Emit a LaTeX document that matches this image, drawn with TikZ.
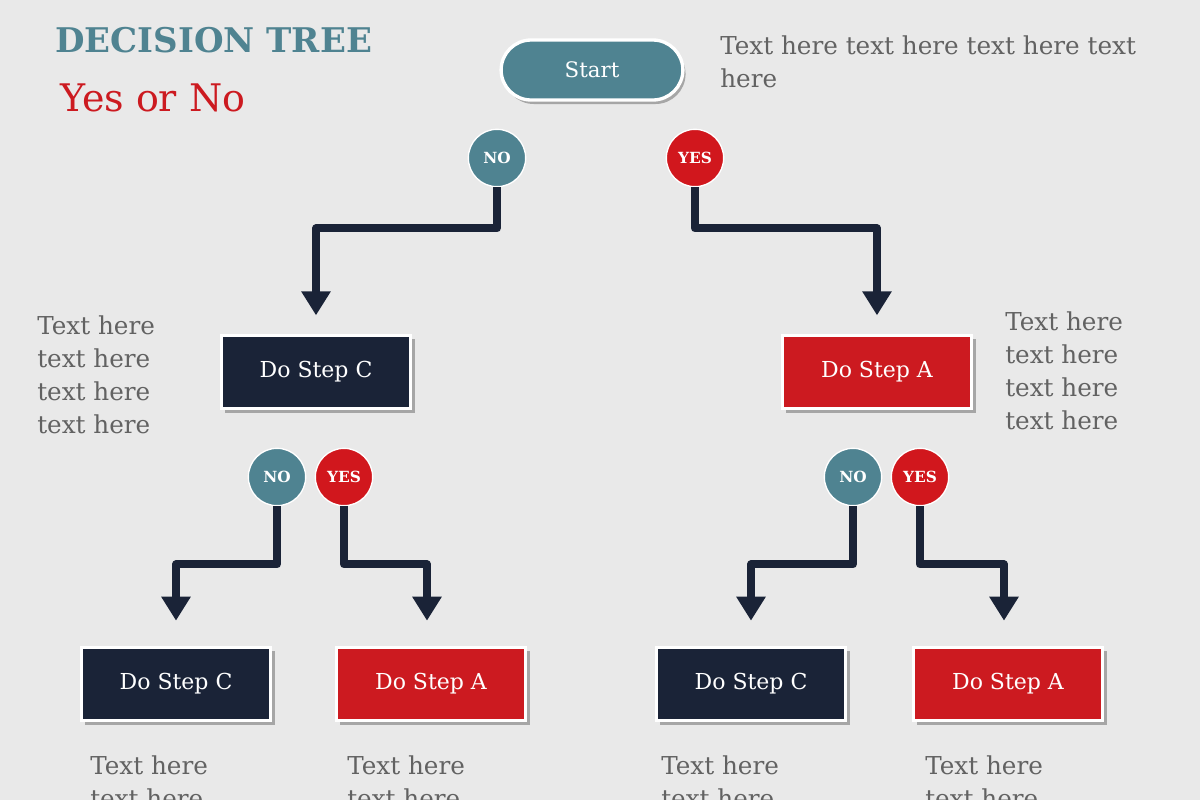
\documentclass[tikz,border=0pt]{standalone}
\usepackage{fontspec}
\setmainfont{DejaVu Serif}
\usetikzlibrary{shapes, arrows.meta, positioning, shadows}

\definecolor{treeteal}{HTML}{4F8391}
\definecolor{treered}{HTML}{CC1A20}
\definecolor{treenavy}{HTML}{1A2337}
\definecolor{txtgray}{HTML}{626262}
\definecolor{bggray}{HTML}{E9E9E9}

\begin{document}
\begin{tikzpicture}[x=0.75pt, y=-0.75pt, >={Triangle[width=21pt,length=18pt]},
  stepbox/.style={rectangle, draw=white, line width=2pt, minimum width=142pt, minimum height=55pt, text=white, font=\fontsize{16.5}{20}\selectfont, drop shadow={shadow xshift=3pt, shadow yshift=-3pt, fill=black!35, opacity=1}},
  navybox/.style={stepbox, fill=treenavy},
  redbox/.style={stepbox, fill=treered},
  answer/.style={circle, draw=white, line width=1pt, minimum size=43pt, inner sep=0pt, text=white, font=\bfseries\fontsize{11.5}{13}\selectfont},
  noball/.style={answer, fill=treeteal},
  yesball/.style={answer, fill=treered!90!red},
  flow/.style={->, draw=treenavy, line width=6pt, line join=round},
  note/.style={text=txtgray, align=left, anchor=north west, inner sep=0pt, font=\fontsize{18.5}{24.75}\selectfont}]

\fill[bggray] (0,0) rectangle (1200,800);
\useasboundingbox (0,0) rectangle (1200,800);

% heading
\node[anchor=base west, inner sep=0pt, text=treeteal, font=\bfseries\fontsize{25.5}{30}\selectfont] (title) at (55,52) {DECISION TREE};
\node[anchor=base west, inner sep=0pt, text=treered, font=\fontsize{28.5}{34}\selectfont] (subtitle) at (60,111) {Yes or No};

% root
\node[rounded rectangle, draw=white, line width=2.5pt, fill=treeteal, minimum width=143pt, minimum height=45pt, text=white, font=\fontsize{16}{19}\selectfont, drop shadow={shadow xshift=2pt, shadow yshift=-3pt, fill=black!35, opacity=1}] (start) at (592,70) {Start};
\node[note] (starttext) at (720,35) {Text here text here text here text\\here};

% first answers
\node[noball] (no1) at (497,158) {NO};
\node[yesball] (yes1) at (695,158) {YES};

\node[navybox] (stepC) at (316,372) {Do Step C};
\node[redbox] (stepA) at (877,372) {Do Step A};
\node[note] (textC) at (37,315) {Text here\\text here\\text here\\text here};
\node[note] (textA) at (1005,311) {Text here\\text here\\text here\\text here};

\draw[flow, shorten >=14pt] (no1.south) -- ++(0,41) -| (stepC.north);
\draw[flow, shorten >=14pt] (yes1.south) -- ++(0,41) -| (stepA.north);

% second answers
\node[noball] (no2) at (277,477) {NO};
\node[yesball] (yes2) at (344,477) {YES};
\node[noball] (no3) at (853,477) {NO};
\node[yesball] (yes3) at (920,477) {YES};

\node[navybox] (stepCC) at (176,684) {Do Step C};
\node[redbox] (stepCA) at (431,684) {Do Step A};
\node[navybox] (stepAC) at (751,684) {Do Step C};
\node[redbox] (stepAA) at (1008,684) {Do Step A};

\draw[flow, shorten >=19pt] (no2.south) -- ++(0,58) -| (stepCC.north);
\draw[flow, shorten >=19pt] (yes2.south) -- ++(0,58) -| ([xshift=-3pt]stepCA.north);
\draw[flow, shorten >=19pt] (no3.south) -- ++(0,58) -| (stepAC.north);
\draw[flow, shorten >=19pt] (yes3.south) -- ++(0,58) -| ([xshift=-3pt]stepAA.north);

\node[note] (textCC) at (90,755) {Text here\\text here};
\node[note] (textCA) at (347,755) {Text here\\text here};
\node[note] (textAC) at (661,755) {Text here\\text here};
\node[note] (textAA) at (925,755) {Text here\\text here};
\end{tikzpicture}
\end{document}
